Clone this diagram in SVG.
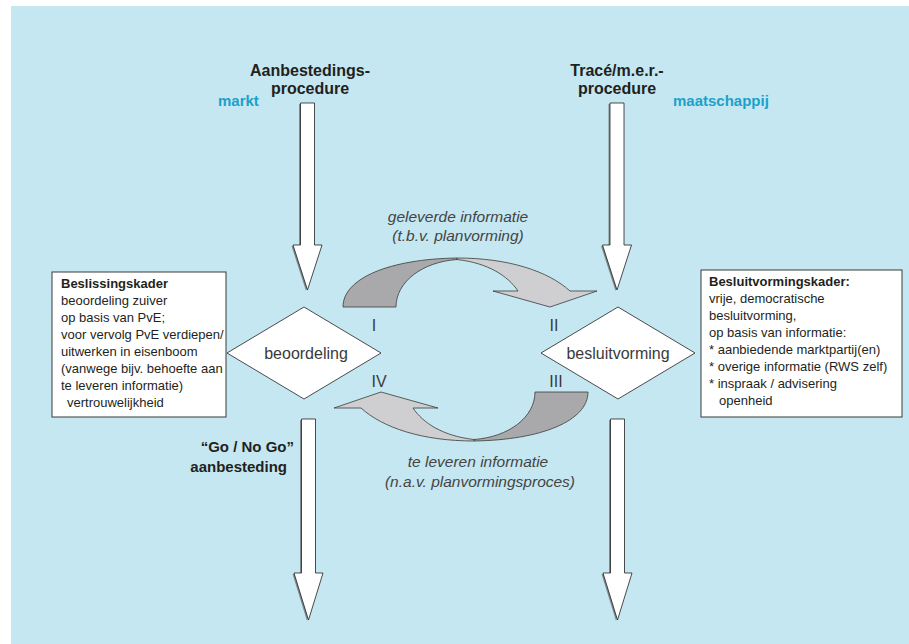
<svg xmlns="http://www.w3.org/2000/svg" width="909" height="644" viewBox="0 0 909 644">
  <style>
    .bg { fill: #c5e7f1; }
    .head { font-family: "Liberation Sans", Arial, sans-serif; font-weight: bold; font-size: 16px; fill: #231f20; text-anchor: middle; }
    .side { font-family: "Liberation Sans", Arial, sans-serif; font-weight: bold; font-size: 15px; fill: #1ba1cb; }
    .node { fill: #ffffff; stroke: #231f20; stroke-width: 0.8; }
    .node-label { font-family: "Liberation Sans", Arial, sans-serif; font-size: 16px; fill: #3a3a3a; text-anchor: middle; }
    .box { fill: #ffffff; stroke: #3a3a3a; stroke-width: 1; }
    .box-text { font-family: "Liberation Sans", Arial, sans-serif; font-size: 13px; fill: #231f20; }
    .box-title { font-weight: bold; }
    .flow { fill: #ffffff; stroke: #231f20; stroke-width: 0.8; }
    .flow-shadow { fill: #7d8a90; }
    .dark { fill: #a9a9ab; stroke: #3a3a3a; stroke-width: 0.8; }
    .light { fill: #cfcfd1; stroke: #3a3a3a; stroke-width: 0.8; }
    .note { font-family: "Liberation Sans", Arial, sans-serif; font-style: italic; font-size: 15.5px; fill: #444444; text-anchor: middle; }
    .num { font-family: "Liberation Sans", Arial, sans-serif; font-size: 16px; fill: #3a3a3a; text-anchor: middle; }
    .go { font-family: "Liberation Sans", Arial, sans-serif; font-weight: bold; font-size: 15px; fill: #231f20; text-anchor: end; }
  </style>
  <defs>
    <!-- straight block arrow, tip at origin, pointing down -->
    <path id="down-arrow" d="M-7,-187 L7,-187 L7,-45 L14.5,-45 L0,0 L-14.5,-45 L-7,-45 Z"/>
    <path id="down-arrow-long" d="M-7,-201 L7,-201 L7,-47 L14.5,-47 L0,0 L-14.5,-47 L-7,-47 Z"/>
    <!-- curved twisted arrow (upper one); the lower one is this rotated 180 degrees -->
    <g id="curl">
      <path class="dark" d="M343,307 C343,278 390,259 457,258 L457,259.5 C422,262 396,282 396,307 Z"/>
      <path class="light" d="M457,258 C508,258 548,271 570,291 L597,291 L550,307 L493,291 L518,291 C508,276 488,263 457,259.5 Z"/>
    </g>
  </defs>

  <rect class="bg" x="11" y="6" width="898" height="638"/>

  <!-- column headings -->
  <g id="heading-left">
    <text class="head" x="310" y="76">Aanbestedings-</text>
    <text class="head" x="310" y="94">procedure</text>
    <text class="side" x="218" y="106">markt</text>
  </g>
  <g id="heading-right">
    <text class="head" x="617" y="76">Tracé/m.e.r.-</text>
    <text class="head" x="617" y="94">procedure</text>
    <text class="side" x="673" y="106">maatschappij</text>
  </g>

  <!-- connectors -->
  <g id="connectors">
    <use href="#down-arrow" class="flow-shadow" transform="translate(306,291)"/>
    <use href="#down-arrow" class="flow" transform="translate(307.5,290)"/>
    <use href="#down-arrow" class="flow-shadow" transform="translate(615.5,291)"/>
    <use href="#down-arrow" class="flow" transform="translate(617,290)"/>

    <use href="#down-arrow-long" class="flow-shadow" transform="translate(307,621)"/>
    <use href="#down-arrow-long" class="flow" transform="translate(308.5,620)"/>
    <use href="#down-arrow-long" class="flow-shadow" transform="translate(616,621)"/>
    <use href="#down-arrow-long" class="flow" transform="translate(617.5,620)"/>

    <use href="#curl"/>
    <use href="#curl" transform="rotate(180 465.5 349.5)"/>

    <text class="note" x="458" y="222">geleverde informatie</text>
    <text class="note" x="458" y="241">(t.b.v. planvorming)</text>
    <text class="note" x="478" y="467">te leveren informatie</text>
    <text class="note" x="480" y="487">(n.a.v. planvormingsproces)</text>

    <text class="num" x="374" y="331">I</text>
    <text class="num" x="554" y="331">II</text>
    <text class="num" x="379" y="387">IV</text>
    <text class="num" x="556" y="387">III</text>

    <text class="go" x="294" y="452">“Go / No Go”</text>
    <text class="go" x="287" y="472">aanbesteding</text>
  </g>

  <!-- decision nodes -->
  <g id="beoordeling">
    <polygon class="node" points="304,307 381,353 304,399 227,353"/>
    <text class="node-label" x="306" y="359">beoordeling</text>
  </g>
  <g id="besluitvorming">
    <polygon class="node" points="618,307 695,353 618,399 541,353"/>
    <text class="node-label" x="618" y="359">besluitvorming</text>
  </g>

  <!-- framework boxes -->
  <g id="beslissingskader">
    <rect class="box" x="52" y="272" width="174" height="145"/>
    <text class="box-text box-title" x="61" y="288">Beslissingskader</text>
    <text class="box-text" x="61" y="305">beoordeling zuiver</text>
    <text class="box-text" x="61" y="322">op basis van PvE;</text>
    <text class="box-text" x="61" y="339">voor vervolg PvE verdiepen/</text>
    <text class="box-text" x="61" y="356">uitwerken in eisenboom</text>
    <text class="box-text" x="61" y="373">(vanwege bijv. behoefte aan</text>
    <text class="box-text" x="61" y="390">te leveren informatie)</text>
    <text class="box-text" x="67" y="407">vertrouwelijkheid</text>
  </g>
  <g id="besluitvormingskader">
    <rect class="box" x="701" y="270" width="201" height="147"/>
    <text class="box-text box-title" x="709" y="286">Besluitvormingskader:</text>
    <text class="box-text" x="709" y="303">vrije, democratische</text>
    <text class="box-text" x="709" y="320">besluitvorming,</text>
    <text class="box-text" x="709" y="337">op basis van informatie:</text>
    <text class="box-text" x="709" y="354">* aanbiedende marktpartij(en)</text>
    <text class="box-text" x="709" y="371">* overige informatie (RWS zelf)</text>
    <text class="box-text" x="709" y="388">* inspraak / advisering</text>
    <text class="box-text" x="719" y="405">openheid</text>
  </g>
</svg>
